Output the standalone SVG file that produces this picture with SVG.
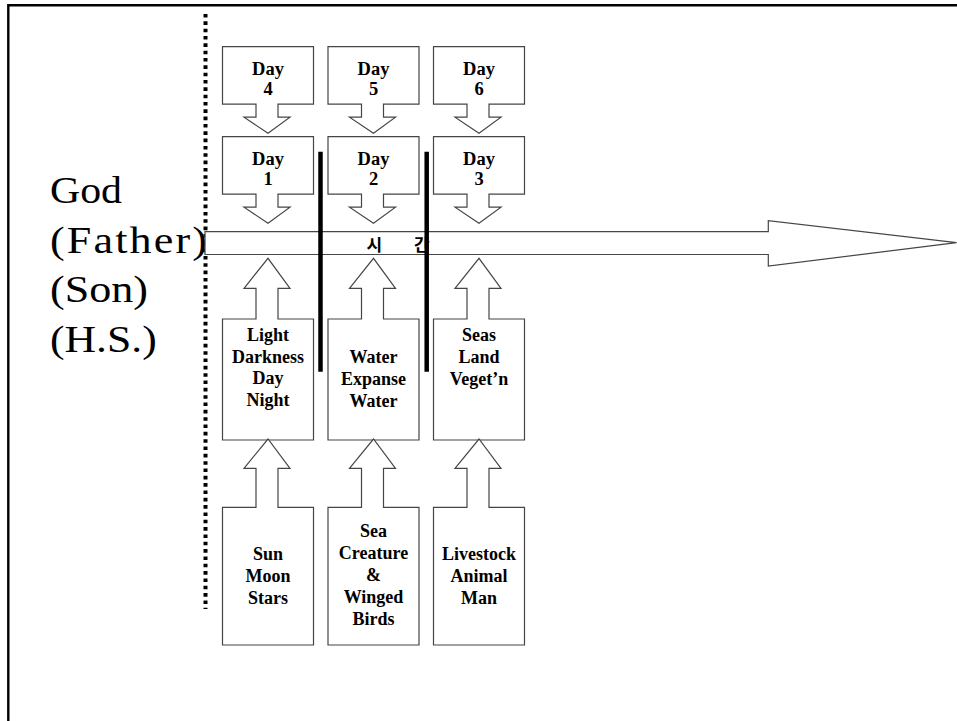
<svg xmlns="http://www.w3.org/2000/svg" width="957" height="721" viewBox="0 0 957 721">
<style>
.shape{fill:#fff;stroke:#454545;stroke-width:1.2}
.day{font-family:"Liberation Serif",serif;font-weight:bold;font-size:18.5px;text-anchor:middle;fill:#000}
.lbl{font-family:"Liberation Serif",serif;font-weight:bold;font-size:18px;text-anchor:middle;fill:#000}
.god{font-family:"Liberation Serif",serif;font-size:38px;fill:#000}
.kr{font-family:"Noto Sans CJK KR",sans-serif;font-weight:bold;font-size:17px;fill:#000}
.bar{stroke:#000;stroke-width:4.5}
</style>
<defs>
<path id="down1" d="M0,0 H91 V57.5 H55.5 V70.5 H67.5 L45.5,86.5 L21.5,70.5 H33.5 V57.5 H0 Z"/>
<path id="up1" d="M0,60.7 H33.5 V30 H21.5 L45.5,0 L67.5,30 H55.5 V60.7 H91 V181.7 H0 Z"/>
<path id="up2" d="M0,68.3 H33.5 V29.3 H21.5 L45.5,0 L67.5,29.3 H55.5 V68.3 H91 V206 H0 Z"/>
</defs>
<rect width="957" height="721" fill="#fff"/>
<path d="M8.3,725 V5.2 H960" fill="none" stroke="#000" stroke-width="2.4"/>
<g id="godtext">
<text class="god" transform="translate(50,203) scale(1.1,1)">God</text>
<text class="god" transform="translate(50,252.5) scale(1.16,1)" textLength="135.3" lengthAdjust="spacing">(Father)</text>
<text class="god" transform="translate(50,301.5) scale(1.16,1)">(Son)</text>
<text class="god" transform="translate(50,351.5) scale(1.15,1)">(H.S.)</text>
</g>
<g id="divider">
<line x1="205.5" y1="14" x2="205.5" y2="609" stroke="#000" stroke-width="4" stroke-dasharray="3.6 3.73"/>
</g>
<g id="connectors">
<g id="timeline">
<polygon class="shape" points="205,231.7 768.3,231.7 768.3,220.7 956.5,242.7 768.3,266 768.3,254.5 205,254.5"/>
<text class="kr" x="366.5" y="250.5">시</text>
<text class="kr" x="414" y="250.5">간</text>
</g>
<line class="bar" x1="320.5" y1="151.7" x2="320.5" y2="371.7"/>
<line class="bar" x1="426.7" y1="151.7" x2="426.7" y2="371.7"/>
</g>
<g id="day4"><use href="#down1" class="shape" x="222.5" y="46.7"/><text class="day" x="268" y="75">Day</text><text class="day" x="268" y="95">4</text></g>
<g id="day5"><use href="#down1" class="shape" x="328" y="46.7"/><text class="day" x="373.5" y="75">Day</text><text class="day" x="373.5" y="95">5</text></g>
<g id="day6"><use href="#down1" class="shape" x="433.5" y="46.7"/><text class="day" x="479" y="75">Day</text><text class="day" x="479" y="95">6</text></g>
<g id="day1"><use href="#down1" class="shape" x="222.5" y="136.7"/><text class="day" x="268" y="165">Day</text><text class="day" x="268" y="185">1</text></g>
<g id="day2"><use href="#down1" class="shape" x="328" y="136.7"/><text class="day" x="373.5" y="165">Day</text><text class="day" x="373.5" y="185">2</text></g>
<g id="day3"><use href="#down1" class="shape" x="433.5" y="136.7"/><text class="day" x="479" y="165">Day</text><text class="day" x="479" y="185">3</text></g>
<g id="mid1"><use href="#up1" class="shape" x="222.5" y="258.3"/>
<text class="lbl" x="268" y="340.5">Light</text><text class="lbl" x="268" y="362.5">Darkness</text><text class="lbl" x="268" y="384">Day</text><text class="lbl" x="268" y="405.5">Night</text></g>
<g id="mid2"><use href="#up1" class="shape" x="328" y="258.3"/>
<text class="lbl" x="373.5" y="362.5">Water</text><text class="lbl" x="373.5" y="384.5">Expanse</text><text class="lbl" x="373.5" y="406.5">Water</text></g>
<g id="mid3"><use href="#up1" class="shape" x="433.5" y="258.3"/>
<text class="lbl" x="479" y="340.5">Seas</text><text class="lbl" x="479" y="362.5">Land</text><text class="lbl" x="479" y="384.5">Veget’n</text></g>
<g id="bot1"><use href="#up2" class="shape" x="222.5" y="439"/>
<text class="lbl" x="268" y="560">Sun</text><text class="lbl" x="268" y="582">Moon</text><text class="lbl" x="268" y="604">Stars</text></g>
<g id="bot2"><use href="#up2" class="shape" x="328" y="439"/>
<text class="lbl" x="373.5" y="537">Sea</text><text class="lbl" x="373.5" y="558.5">Creature</text><text class="lbl" x="373.5" y="580.5">&amp;</text><text class="lbl" x="373.5" y="602.5">Winged</text><text class="lbl" x="373.5" y="624.5">Birds</text></g>
<g id="bot3"><use href="#up2" class="shape" x="433.5" y="439"/>
<text class="lbl" x="479" y="560">Livestock</text><text class="lbl" x="479" y="582">Animal</text><text class="lbl" x="479" y="604">Man</text></g>
</svg>
